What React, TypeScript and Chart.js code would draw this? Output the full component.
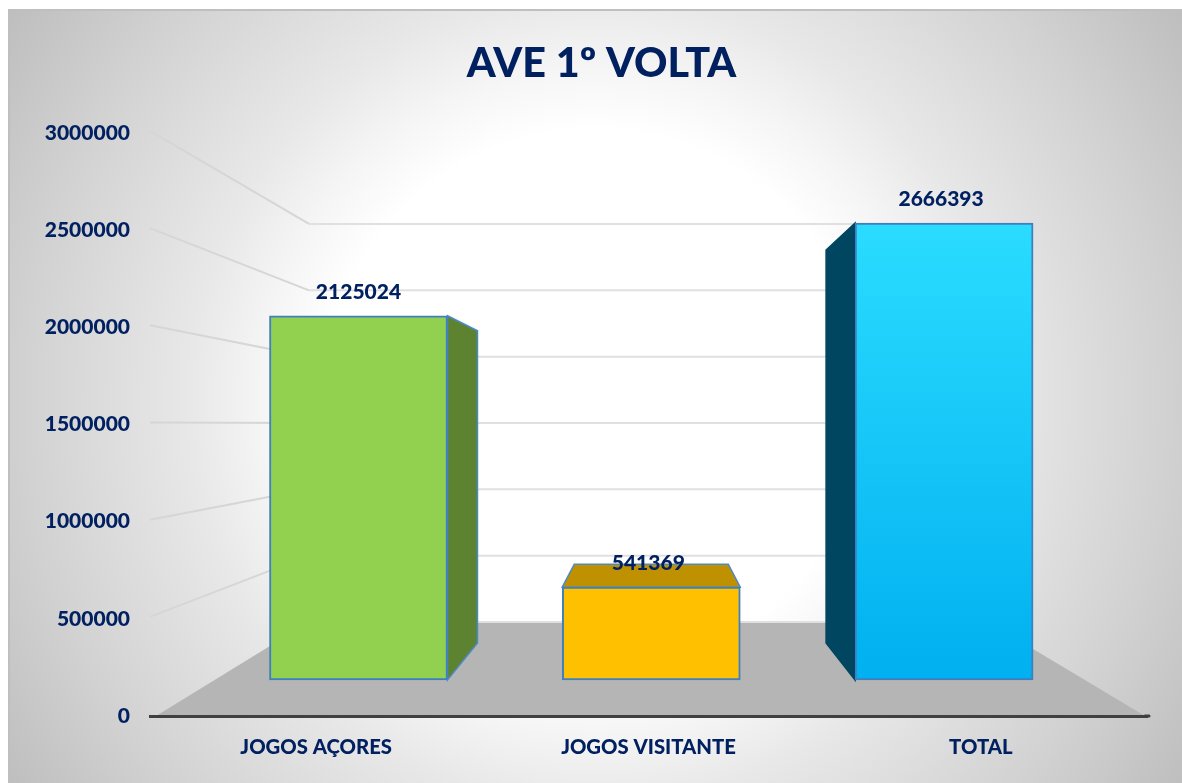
import React, { useEffect, useRef } from "react";
import { Chart, registerables } from "chart.js";

Chart.register(...registerables);

const categories = ["JOGOS AÇORES", "JOGOS VISITANTE", "TOTAL"];
const values = [2125024, 541369, 2666393];
const barColors = ["#92d050", "#ffc000", "#00b0f0"];
const faceColors = ["#5d8230", "#bf9000", "#004660"];
const faceEdges = ["#4a8ac6", "#4a8ac6", "#004660"];
const titleText = "AVE 1º VOLTA";
const NAVY = "#002060";
const FONT = "Lato";
const LINE = "#e0e0e0";
const DIAGONAL = "#d6d6d6";

// per-bar extrusion: which face is visible and how far it recedes
const faceKinds = ["right", "top", "left"];
const labelShift = [0, -3, -3];

const shapes3d = {
  id: "shapes3d",
  beforeDraw(chart: any) {
    const { ctx, chartArea: a, scales } = chart;
    ctx.save();
    // panel
    const g = ctx.createRadialGradient(595, 400, 0, 595, 400, 710);
    g.addColorStop(0, "#ffffff");
    g.addColorStop(0.38, "#ffffff");
    g.addColorStop(0.47, "#f5f5f5");
    g.addColorStop(0.57, "#e8e8e8");
    g.addColorStop(0.8, "#d2d2d2");
    g.addColorStop(1, "#bdbdbd");
    ctx.fillStyle = g;
    ctx.fillRect(8, 10, chart.width - 8, chart.height - 10);
    ctx.strokeStyle = "#bfbfbf";
    ctx.lineWidth = 2;
    ctx.beginPath();
    ctx.moveTo(9, chart.height);
    ctx.lineTo(9, 10);
    ctx.lineTo(chart.width, 10);
    ctx.stroke();

    // floor
    const backL = a.left + 159;
    const backR = a.right - 159;
    const floorBack = scales.yw.getPixelForValue(0);
    ctx.fillStyle = "#b5b5b5";
    ctx.beginPath();
    ctx.moveTo(a.left + 6, a.bottom);
    ctx.lineTo(backL, floorBack);
    ctx.lineTo(backR, floorBack);
    ctx.lineTo(a.right - 2, a.bottom);
    ctx.closePath();
    ctx.fill();

    // wall grid
    ctx.lineWidth = 2;
    for (const t of scales.y.ticks) {
      const yB = scales.yw.getPixelForValue(t.value);
      if (t.value !== 0) {
        ctx.strokeStyle = DIAGONAL;
        ctx.beginPath();
        ctx.moveTo(a.left, scales.y.getPixelForValue(t.value) - 2);
        ctx.lineTo(backL, yB);
        ctx.stroke();
      }
      ctx.strokeStyle = LINE;
      ctx.beginPath();
      ctx.moveTo(backL, yB);
      ctx.lineTo(backR, yB);
      ctx.stroke();
    }

    // the axis line runs slightly past the plot on the right
    ctx.strokeStyle = "#404040";
    ctx.lineWidth = 3;
    ctx.lineCap = "round";
    ctx.beginPath();
    ctx.moveTo(a.right - 2, a.bottom);
    ctx.lineTo(a.right + 2, a.bottom);
    ctx.stroke();
    ctx.restore();
  },
  beforeDatasetsDraw(chart: any) {
    const { ctx } = chart;
    const bars = chart.getDatasetMeta(0).data;
    ctx.save();
    bars.forEach((b: any, i: number) => {
      const L = b.x - b.width / 2;
      const R = b.x + b.width / 2;
      const T = b.y;
      const B = b.base;
      ctx.fillStyle = faceColors[i];
      ctx.strokeStyle = faceEdges[i];
      ctx.lineWidth = 1.5;
      ctx.beginPath();
      if (faceKinds[i] === "right") {
        ctx.moveTo(R, T);
        ctx.lineTo(R + 30, T + 15);
        ctx.lineTo(R + 30, B - 37);
        ctx.lineTo(R, B);
      } else if (faceKinds[i] === "left") {
        ctx.moveTo(L, T);
        ctx.lineTo(L - 29, T + 27);
        ctx.lineTo(L - 29, B - 37);
        ctx.lineTo(L, B);
      } else {
        ctx.moveTo(L, T);
        ctx.lineTo(L + 12, T - 23);
        ctx.lineTo(R - 12, T - 23);
        ctx.lineTo(R, T);
      }
      ctx.closePath();
      ctx.fill();
      ctx.stroke();
    });
    ctx.restore();
  },
  afterDatasetsDraw(chart: any) {
    const { ctx } = chart;
    const bars = chart.getDatasetMeta(0).data;
    ctx.save();
    ctx.fillStyle = NAVY;
    ctx.font = `900 21px ${FONT}`;
    ctx.textAlign = "center";
    ctx.textBaseline = "middle";
    bars.forEach((b: any, i: number) => {
      ctx.fillText(String(values[i]), b.x + labelShift[i], b.y - 24);
    });
    ctx.restore();
  },
  afterLayout(chart: any) {
    // the title sits a little right of the canvas centre
    if (chart.titleBlock) chart.titleBlock.left = 56;
  },
};

export default function App() {
  const ref = useRef<HTMLCanvasElement>(null);
  useEffect(() => {
    if (!ref.current) return;
    const chart = new Chart(ref.current, {
      type: "bar",
      data: {
        labels: categories,
        datasets: [
          {
            data: values.map((v, i) => ({ x: i, y: v })),
            xAxisID: "xb",
            yAxisID: "yb",
            barThickness: 178,
            borderWidth: 2,
            borderColor: "#3f7fbf",
            borderSkipped: false,
            backgroundColor: (c: any) => {
              const i = c.dataIndex;
              const sc = c.chart.scales.yb;
              if (i === 2 && sc && c.chart.chartArea) {
                const g = c.chart.ctx.createLinearGradient(
                  0,
                  sc.getPixelForValue(values[2]),
                  0,
                  sc.getPixelForValue(0)
                );
                g.addColorStop(0, "#2bdcff");
                g.addColorStop(1, "#00b0f0");
                return g;
              }
              return barColors[i];
            },
          } as any,
        ],
      },
      options: {
        animation: false,
        responsive: false,
        events: [],
        layout: { padding: { left: 0, right: 35, top: 0, bottom: 0 } },
        plugins: {
          legend: { display: false },
          tooltip: { enabled: false },
          title: {
            display: true,
            text: titleText,
            color: NAVY,
            font: { family: FONT, size: 41.3, weight: "900", lineHeight: 1.2 },
            padding: { top: 39, bottom: 44.4 },
          },
        },
        scales: {
          x: {
            type: "category",
            position: "bottom",
            grid: { display: false, drawTicks: false },
            border: { display: true, color: "#404040", width: 3 },
            ticks: {
              color: NAVY,
              font: { family: FONT, size: 20.3, weight: "900" },
              padding: 19,
              maxRotation: 0,
            },
            afterFit: (s: any) => {
              s.height = 67;
            },
          },
          y: {
            type: "linear",
            position: "left",
            min: 0,
            max: 3000000,
            grid: { display: false, drawTicks: false },
            border: { display: false },
            ticks: {
              stepSize: 500000,
              color: NAVY,
              font: { family: FONT, size: 21, weight: "900" },
              padding: 20,
              callback: (v: any) => String(v),
            },
            afterFit: (s: any) => {
              s.width = 150;
            },
          },
          // hidden scales: plane of the bar fronts and plane of the back wall
          xb: { type: "linear", display: false, offset: false, min: -0.712, max: 2.693 },
          yb: { type: "linear", display: false, min: -210046, max: 3191500 },
          yw: { type: "linear", display: false, min: -708500, max: 3686000 },
        },
      } as any,
      plugins: [shapes3d],
    });
    return () => chart.destroy();
  }, []);
  return (
    <div style={{ position: "fixed", left: 0, top: 0, width: 1182, height: 783, background: "#fff" }}>
      <canvas ref={ref} width={1182} height={783} style={{ display: "block" }} />
    </div>
  );
}
